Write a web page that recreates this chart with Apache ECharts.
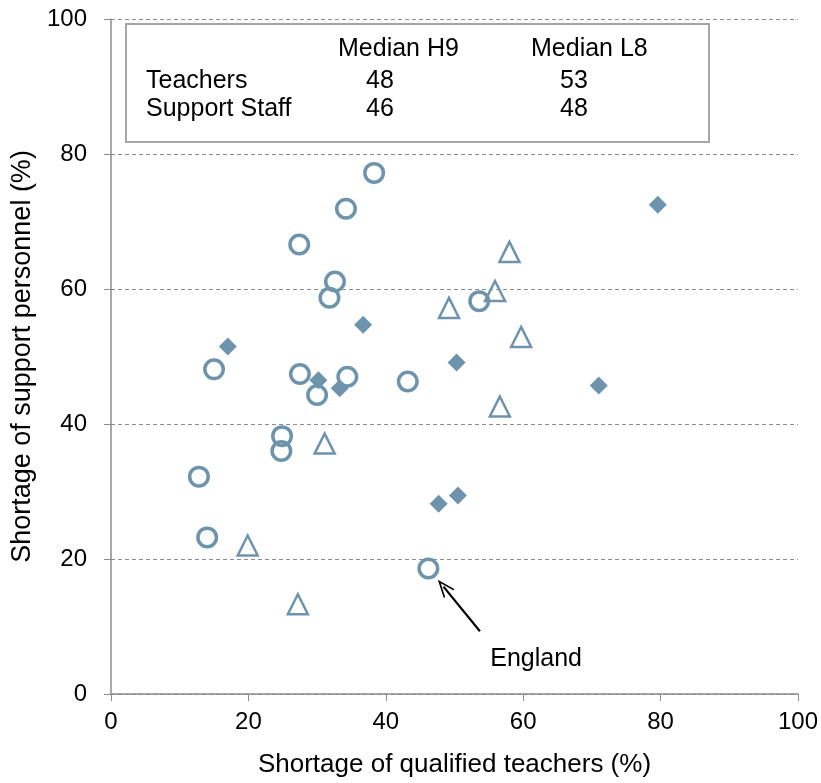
<!DOCTYPE html>
<html>
<head>
<meta charset="utf-8">
<script src="https://cdn.jsdelivr.net/npm/echarts@6/dist/echarts.min.js"></script>
<style>html,body{margin:0;padding:0;background:#fff}#c{width:821px;height:783px}</style>
</head>
<body>
<div id="c"></div>
<script>
// Circles (incl. England)
const circleX = [38.3, 34.2, 27.4, 32.6, 31.8, 53.6, 15.0, 27.5, 34.4, 30.0, 43.2, 24.9, 24.8, 12.8, 14.0, 46.2];
const circleY = [77.2, 71.9, 66.6, 61.1, 58.7, 58.2, 48.1, 47.4, 47.0, 44.3, 46.3, 38.2, 36.0, 32.2, 23.2, 18.6];
// Filled diamonds
const diamondX = [17.0, 36.7, 30.2, 33.3, 50.3, 79.6, 71.0, 47.7, 50.5];
const diamondY = [51.5, 54.7, 46.5, 45.3, 49.1, 72.5, 45.7, 28.2, 29.4];
// Open triangles
const triangleX = [58.0, 55.9, 49.2, 59.7, 56.6, 31.1, 19.9, 27.2];
const triangleY = [65.5, 59.7, 57.2, 52.9, 42.6, 37.1, 22.0, 13.3];
// England annotation
const englandLabel = 'England';
const englandArrowFrom = [53.7, 9.3];
const englandArrowTo = [48.4, 15.9];
const englandTextAt = [55.2, 5.2];
// Median table
const tableHeaders = ['Median H9', 'Median L8'];
const tableRows = ['Teachers', 'Support Staff'];
const tableH9 = ['48', '46'];
const tableL8 = ['53', '48'];

const C = '#6e94ad';
const zip = (a, b) => a.map((v, i) => [v, b[i]]);
const font = 'Liberation Sans, Arial, sans-serif';
const TF = '25px ' + font;

const chart = echarts.init(document.getElementById('c'));

const tableGraphics = [
  {type:'rect', left:125, top:23, shape:{width:583, height:118}, style:{fill:'#fff', stroke:'#a6a6a6', lineWidth:2}, z:10},
  {type:'text', left:338, top:37, style:{text:tableHeaders[0], font:TF, fill:'#000'}, z:11},
  {type:'text', left:531, top:37, style:{text:tableHeaders[1], font:TF, fill:'#000'}, z:11},
  {type:'text', left:146, top:69, style:{text:tableRows[0], font:TF, fill:'#000'}, z:11},
  {type:'text', left:146, top:97, style:{text:tableRows[1], font:TF, fill:'#000'}, z:11},
  {type:'text', left:366, top:69, style:{text:tableH9[0], font:TF, fill:'#000'}, z:11},
  {type:'text', left:366, top:97, style:{text:tableH9[1], font:TF, fill:'#000'}, z:11},
  {type:'text', left:560, top:69, style:{text:tableL8[0], font:TF, fill:'#000'}, z:11},
  {type:'text', left:560, top:97, style:{text:tableL8[1], font:TF, fill:'#000'}, z:11}
];

chart.setOption({
  animation: false,
  grid: {left:111, right:23, top:19, bottom:87},
  xAxis: {
    type:'value', min:0, max:100, interval:20,
    name:'Shortage of qualified teachers (%)', nameLocation:'middle', nameGap:58,
    nameTextStyle:{fontFamily:font, fontSize:26, color:'#000'},
    axisLine:{show:true, lineStyle:{color:'#8c8c8c', width:1.5}},
    axisTick:{show:true, length:7, lineStyle:{color:'#8c8c8c'}},
    axisLabel:{fontFamily:font, fontSize:24, color:'#000', margin:16},
    splitLine:{show:false}
  },
  yAxis: {
    type:'value', min:0, max:100, interval:20,
    name:'Shortage of support personnel (%)', nameLocation:'middle', nameGap:71,
    nameTextStyle:{fontFamily:font, fontSize:27, color:'#000'},
    axisLine:{show:true, lineStyle:{color:'#8c8c8c', width:1.5}},
    axisTick:{show:true, length:7, lineStyle:{color:'#8c8c8c'}},
    axisLabel:{fontFamily:font, fontSize:24, color:'#000', margin:24},
    splitLine:{show:true, lineStyle:{color:'#8c8c8c', type:[4,3], width:1}}
  },
  graphic: tableGraphics,
  series: [
    {
      name:'Diamonds', type:'scatter', symbol:'diamond', symbolSize:18,
      itemStyle:{color:C, opacity:1},
      data: zip(diamondX, diamondY), z:2
    },
    {
      name:'Triangles', type:'scatter', symbol:'triangle', symbolSize:20,
      itemStyle:{color:'rgba(0,0,0,0)', borderColor:C, borderWidth:2.5, opacity:1},
      data: zip(triangleX, triangleY), z:3
    },
    {
      name:'Circles', type:'scatter', symbol:'circle', symbolSize:18.5,
      itemStyle:{color:'rgba(0,0,0,0)', borderColor:C, borderWidth:3.5, opacity:1},
      data: zip(circleX, circleY), z:4,
      markLine: {
        silent:true,
        symbol:['none','path://M0,0 L7,14 L5.2,14 L0,3.6 L-5.2,14 L-7,14 Z'],
        symbolSize:[14,18],
        lineStyle:{color:'#000', width:2.2, type:'solid'},
        label:{show:false},
        data:[[{coord:englandArrowFrom}, {coord:englandArrowTo}]]
      },
      markPoint: {
        silent:true, symbol:'circle', symbolSize:0,
        label:{show:true, position:'right', distance:0, formatter:englandLabel, fontFamily:font, fontSize:25, color:'#000'},
        data:[{coord:englandTextAt}]
      }
    }
  ]
});
</script>
</body>
</html>
